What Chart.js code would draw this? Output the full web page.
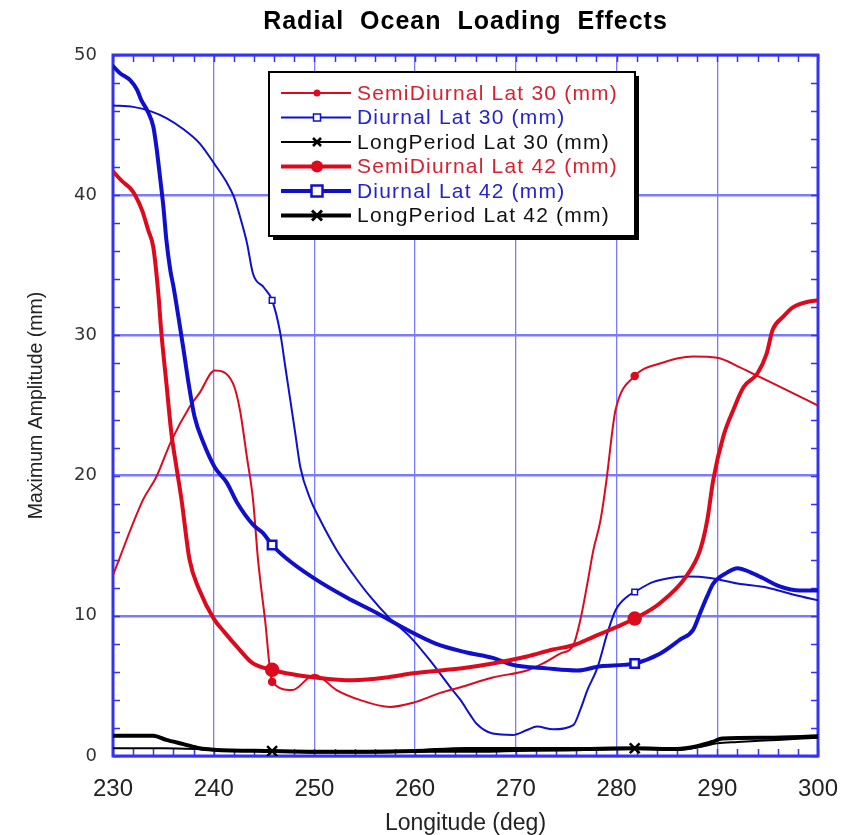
<!DOCTYPE html>
<html><head><meta charset="utf-8">
<script src="https://cdn.jsdelivr.net/npm/chart.js@4.4.1/dist/chart.umd.min.js"></script>
<style>html,body{margin:0;padding:0;background:#fff;}canvas{display:block;}</style>
</head><body>
<canvas id="c" width="852" height="835" style="width:852px;height:835px"></canvas>
<script>
const TITLE = 'Radial  Ocean  Loading  Effects';
const X_TITLE = 'Longitude (deg)';
const Y_TITLE = 'Maximum Amplitude (mm)';
const xTicks = [230, 240, 250, 260, 270, 280, 290, 300];
const yTicks = [0, 10, 20, 30, 40, 50];
const markerLons = [245.8, 281.8];
const seriesNames = ['SemiDiurnal Lat 30 (mm)', 'Diurnal Lat 30 (mm)', 'LongPeriod Lat 30 (mm)',
                     'SemiDiurnal Lat 42 (mm)', 'Diurnal Lat 42 (mm)', 'LongPeriod Lat 42 (mm)'];

const semi30Lon = [230, 233, 234.3, 235.8, 237.6, 238.6, 240.1, 241.9, 242.6, 243.3, 243.9, 244.4, 245.1, 245.8, 247.8, 250, 252.2, 254.5, 257.5, 259.8, 262.5, 264.5, 267.7, 271.1, 272.7, 274.4, 275.7, 276.4, 277.1, 277.7, 278.4, 279.0, 279.6, 279.9, 281.8, 284.3, 287.6, 290, 292.3, 294.3, 296.9, 300];
const semi30Val = [12.9, 18.3, 19.9, 22.5, 24.9, 25.9, 27.5, 26.6, 24.7, 21.3, 18.3, 14.0, 9.7, 5.3, 4.7, 5.8, 4.7, 4.0, 3.5, 3.8, 4.5, 4.9, 5.6, 6.1, 6.6, 7.3, 7.9, 9.7, 12.3, 14.7, 16.8, 19.7, 23.3, 24.7, 27.1, 28.0, 28.5, 28.4, 27.7, 27.0, 26.1, 25.0];

const diur30Lon = [230, 232, 233.7, 235.3, 237, 238.6, 240.1, 241.3, 242, 242.6, 243.3, 243.9, 245.0, 245.8, 246.6, 247.1, 247.6, 248.1, 248.6, 249.6, 250.6, 252.2, 253.8, 255.5, 257.5, 259.5, 261.5, 263.5, 264.5, 265.5, 266.1, 267.7, 269.7, 271.1, 272.1, 273.7, 275.7, 276.4, 277.1, 278.1, 279.1, 279.9, 281.1, 281.8, 283.6, 285.3, 287, 289.3, 292, 295, 297.6, 300];
const diur30Val = [46.4, 46.3, 46.0, 45.5, 44.7, 43.7, 42.2, 40.9, 39.9, 38.5, 36.6, 34.4, 33.4, 32.5, 30.2, 27.8, 25.4, 23.0, 20.6, 18.3, 16.8, 14.7, 13.0, 11.4, 9.8, 8.5, 6.8, 4.9, 4.0, 2.9, 2.3, 1.6, 1.5, 1.85, 2.1, 1.9, 2.2, 3.3, 4.7, 6.3, 8.8, 10.4, 11.4, 11.7, 12.4, 12.7, 12.8, 12.7, 12.3, 12.0, 11.5, 11.1];

const long30Lon = [230, 235, 240, 245.8, 250, 255, 260, 265, 270, 275, 281.8, 286, 288, 290, 292, 296, 300];
const long30Val = [0.55, 0.55, 0.45, 0.35, 0.25, 0.25, 0.3, 0.3, 0.35, 0.4, 0.5, 0.45, 0.6, 0.9, 1.0, 1.15, 1.3];

const semi42Lon = [230, 230.9, 231.7, 232.2, 232.9, 233.5, 234.0, 234.5, 234.8, 235.3, 235.8, 236.3, 236.8, 237.6, 238.6, 240.0, 241.1, 242.3, 243.9, 245.8, 247.2, 250.1, 253.8, 257.2, 259.8, 262.5, 265, 267.7, 271.1, 273.7, 275.7, 277.7, 280.0, 281.8, 284.3, 286.9, 288.3, 289.0, 289.6, 290.6, 291.6, 292.6, 294.0, 294.9, 295.5, 296.5, 297.5, 299.0, 300];
const semi42Val = [41.7, 41.0, 40.5, 40.0, 38.9, 37.5, 36.3, 33.0, 30.2, 26.6, 23.0, 20.6, 18.3, 14.0, 11.8, 9.8, 8.8, 7.8, 6.6, 6.15, 5.9, 5.6, 5.4, 5.6, 5.9, 6.1, 6.3, 6.6, 7.1, 7.6, 7.9, 8.5, 9.2, 9.8, 10.9, 12.8, 14.7, 16.8, 19.7, 22.8, 24.7, 26.3, 27.3, 28.7, 30.4, 31.3, 32.0, 32.4, 32.5];

const diur42Lon = [230, 230.7, 231.7, 232.4, 232.8, 233.5, 234.0, 234.3, 234.7, 235.0, 235.3, 235.7, 236.0, 236.5, 237.0, 237.5, 238.1, 239.0, 240.1, 241.3, 242.3, 243.9, 244.9, 245.8, 247.2, 249.9, 253.2, 256.2, 259.2, 262.1, 265.0, 267.7, 269.7, 273.1, 276.1, 278.4, 280.7, 281.8, 284.3, 286.3, 287.6, 288.3, 289.0, 289.6, 291, 292, 293.3, 294.5, 296.2, 298.2, 300];
const diur42Val = [49.2, 48.7, 48.2, 47.5, 46.8, 45.9, 44.9, 43.5, 41.1, 39.2, 36.8, 34.6, 33.5, 31.3, 29.0, 26.6, 24.2, 22.3, 20.6, 19.5, 18.1, 16.5, 15.9, 15.05, 14.1, 12.7, 11.3, 10.2, 9.0, 8.0, 7.4, 7.0, 6.5, 6.25, 6.1, 6.4, 6.5, 6.6, 7.3, 8.3, 9.0, 10.2, 11.4, 12.3, 13.1, 13.4, 13.1, 12.7, 12.1, 11.8, 11.8];

const long42Lon = [230, 234, 235.3, 237, 238.6, 240, 245.8, 250, 255, 260, 265, 270, 275, 281.8, 286, 288, 289.5, 290.5, 295, 300];
const long42Val = [1.45, 1.45, 1.15, 0.85, 0.55, 0.45, 0.35, 0.3, 0.3, 0.35, 0.5, 0.5, 0.5, 0.55, 0.5, 0.7, 1.0, 1.25, 1.3, 1.4];

const RED = '#dd0a1e', BLUE = '#1010cc', BLACK = '#000000';
const GRID = '#7b7bff', FRAME = '#3434f0';

function pts(lon, val) { return lon.map((x, i) => ({x: x, y: val[i]})); }
function isMarker(ctx) { return ctx.raw && markerLons.includes(ctx.raw.x); }

function ds(i, lon, val, color, width, style, rad, fill) {
  return {
    label: seriesNames[i], data: pts(lon, val), borderColor: color, borderWidth: width,
    backgroundColor: fill, pointStyle: style, pointBorderColor: color, pointBorderWidth: width > 2 ? 2.5 : 1.5,
    pointRadius: c => isMarker(c) ? rad : 0, pointHoverRadius: 0,
    cubicInterpolationMode: 'monotone', fill: false
  };
}

const datasets = [
  ds(3, semi42Lon, semi42Val, RED, 4, 'circle', 6, RED),
  ds(4, diur42Lon, diur42Val, BLUE, 4, 'rect', 6, '#ffffff'),
  ds(5, long42Lon, long42Val, BLACK, 4, 'crossRot', 7, BLACK),
  ds(0, semi30Lon, semi30Val, RED, 2, 'circle', 3.5, RED),
  ds(1, diur30Lon, diur30Val, BLUE, 2, 'rect', 4, '#ffffff'),
  ds(2, long30Lon, long30Val, BLACK, 2, 'crossRot', 5, BLACK)
];

const frameTicks = {
  id: 'frameTicks',
  beforeDatasetsDraw(chart) {
    const {ctx, chartArea: a, scales: {x, y}} = chart;
    ctx.save();
    ctx.strokeStyle = FRAME; ctx.lineWidth = 1.5;
    ctx.beginPath();
    for (let v = 230; v <= 300; v += 2) {
      const px = Math.round(x.getPixelForValue(v)) + 0.5;
      ctx.moveTo(px, a.bottom); ctx.lineTo(px, a.bottom - 7);
      ctx.moveTo(px, a.top); ctx.lineTo(px, a.top + 7);
    }
    for (let v = 0; v <= 50; v += 2) {
      const py = Math.round(y.getPixelForValue(v)) + 0.5;
      ctx.moveTo(a.left, py); ctx.lineTo(a.left + 7, py);
      ctx.moveTo(a.right, py); ctx.lineTo(a.right - 7, py);
    }
    ctx.stroke();
    ctx.lineWidth = 3;
    ctx.strokeRect(a.left, a.top, a.right - a.left, a.bottom - a.top);
    ctx.restore();
  }
};

const titleAndLegend = {
  id: 'titleAndLegend',
  afterDraw(chart) {
    const {ctx, chartArea: a} = chart;
    ctx.save();
    ctx.fillStyle = '#000';
    ctx.font = 'bold 25px "Liberation Sans", Arial, sans-serif';
    ctx.letterSpacing = '1px';
    ctx.textAlign = 'center'; ctx.textBaseline = 'middle';
    ctx.fillText(TITLE, (a.left + a.right) / 2, 22);
    ctx.letterSpacing = '0px';
    // legend box
    const bx = 269, by = 72, bw = 366, bh = 164;
    ctx.fillStyle = '#000';
    ctx.fillRect(bx + 4, by + 4, bw, bh);
    ctx.fillStyle = '#fff';
    ctx.fillRect(bx, by, bw, bh);
    ctx.strokeStyle = '#000'; ctx.lineWidth = 2;
    ctx.strokeRect(bx, by, bw, bh);
    const order = [3, 4, 5, 0, 1, 2];
    const textColors = ['#d8202e', '#2424cc', '#111111'];
    ctx.font = '21px "Liberation Sans", Arial, sans-serif';
    ctx.letterSpacing = '1.2px';
    ctx.textAlign = 'left'; ctx.textBaseline = 'middle';
    for (let r = 0; r < 6; r++) {
      const d = chart.data.datasets[order[r]];
      const yy = by + 21 + r * 24.5;
      ctx.strokeStyle = d.borderColor; ctx.lineWidth = d.borderWidth;
      ctx.beginPath(); ctx.moveTo(bx + 12, yy); ctx.lineTo(bx + 82, yy); ctx.stroke();
      const big = r >= 3;
      const cx = bx + 48;
      if (d.pointStyle === 'circle') {
        ctx.fillStyle = d.borderColor; ctx.beginPath(); ctx.arc(cx, yy, big ? 6 : 3.5, 0, Math.PI * 2); ctx.fill();
      } else if (d.pointStyle === 'rect') {
        const s = big ? 11 : 7;
        ctx.fillStyle = '#fff'; ctx.lineWidth = big ? 2.5 : 1.5;
        ctx.fillRect(cx - s / 2, yy - s / 2, s, s); ctx.strokeRect(cx - s / 2, yy - s / 2, s, s);
      } else {
        const s = big ? 5 : 4; ctx.lineWidth = big ? 3 : 2.5;
        ctx.beginPath(); ctx.moveTo(cx - s, yy - s); ctx.lineTo(cx + s, yy + s);
        ctx.moveTo(cx - s, yy + s); ctx.lineTo(cx + s, yy - s); ctx.stroke();
      }
      ctx.fillStyle = textColors[r % 3];
      ctx.fillText(d.label, bx + 88, yy + 1);
    }
    ctx.restore();
  }
};

new Chart(document.getElementById('c'), {
  type: 'scatter',
  data: { datasets: datasets },
  options: {
    responsive: false, animation: false, showLine: true,
    layout: { padding: { left: 0, right: 34, top: 55, bottom: 0 } },
    plugins: { legend: { display: false }, title: { display: false }, tooltip: { enabled: false } },
    elements: { line: { borderJoinStyle: 'round', borderCapStyle: 'round' } },
    scales: {
      x: {
        type: 'linear', min: 230, max: 300,
        afterBuildTicks: s => { s.ticks = xTicks.map(v => ({value: v})); },
        afterFit: s => { s.height = 79; s.paddingLeft = 0; s.paddingRight = 0; },
        ticks: { padding: 19, color: '#222', font: { family: '"Liberation Sans Narrow", "Liberation Sans", Arial', size: 24 } },
        grid: { color: GRID, lineWidth: 1.3, drawTicks: false },
        border: { display: false },
        title: { display: true, text: X_TITLE, color: '#222', padding: { top: 0, bottom: 0 },
                 font: { family: '"Liberation Sans Narrow", "Liberation Sans", Arial', size: 23, lineHeight: 1 } }
      },
      y: {
        type: 'linear', min: 0, max: 50,
        afterBuildTicks: s => { s.ticks = yTicks.map(v => ({value: v})); },
        afterFit: s => { s.width = 113; },
        ticks: { padding: 16, color: '#333', font: { family: '"DejaVu Sans", Arial', size: 18 } },
        grid: { color: GRID, lineWidth: 2.6, drawTicks: false },
        border: { display: false },
        title: { display: true, text: Y_TITLE, color: '#222', padding: { top: 25, bottom: 0 },
                 font: { family: '"Liberation Sans Narrow", "Liberation Sans", Arial', size: 19.5 } }
      }
    }
  },
  plugins: [frameTicks, titleAndLegend]
});
</script>
</body></html>
